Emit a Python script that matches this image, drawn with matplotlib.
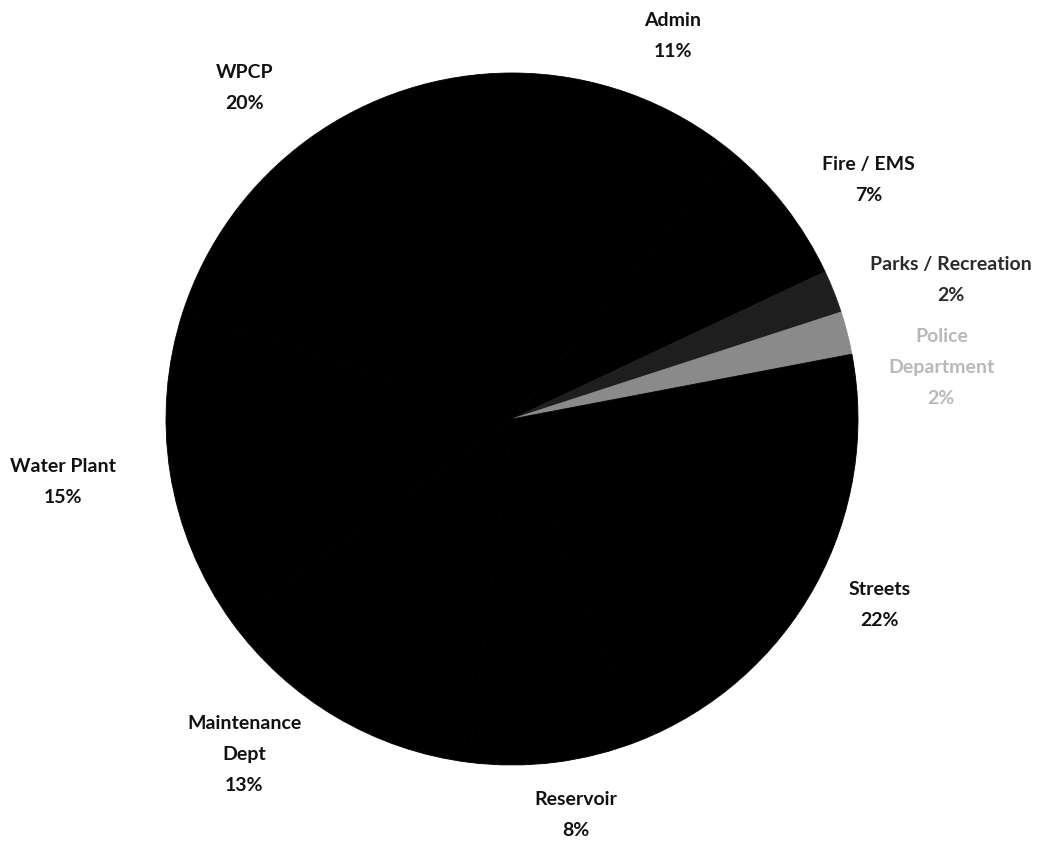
import numpy as np
import matplotlib
matplotlib.use("Agg")
import matplotlib.pyplot as plt

# ---- data ----
departments = ["Admin", "Fire / EMS", "Parks / Recreation", "Police\nDepartment",
               "Streets", "Reservoir", "Maintenance\nDept", "Water Plant", "WPCP"]
shares = [11, 7, 2, 2, 22, 8, 13, 15, 20]

# ---- styling / layout ----
slice_colors = ["#000000", "#000000", "#1e1e1e", "#8a8a8a",
                "#000000", "#000000", "#000000", "#000000", "#000000"]
label_colors = ["#111111", "#111111", "#2a2a2a", "#b8b8b8",
                "#111111", "#111111", "#111111", "#111111", "#111111"]
label_dist = [1.20, 1.24, 1.33, 1.25, 1.19, 1.16, 1.24, 1.31, 1.23]
label_dang = [-3, -4, -4, -7.5, 2, 2.0, -8, -1, 3]

plt.rcParams['font.family'] = ['Lato', 'DejaVu Sans']

W, H = 1056, 842
fig = plt.figure(figsize=(W / 100, H / 100), dpi=100)
ax = fig.add_axes([0, 0, 1, 1])
cx, cy, R = 512, 419, 346

wedges, _ = ax.pie(shares, colors=slice_colors, startangle=90, counterclock=False,
                   radius=1.0, wedgeprops=dict(linewidth=0.6))
for w, c in zip(wedges, slice_colors):
    w.set_edgecolor(c)

for w, lab, val, col, d, da in zip(wedges, departments, shares, label_colors,
                                    label_dist, label_dang):
    mid = np.deg2rad((w.theta1 + w.theta2) / 2 + da)
    x, y = d * np.cos(mid), d * np.sin(mid)
    ax.text(x, y, f"{lab}\n{val}%", ha="center", va="center", fontsize=14,
            fontweight="bold", color=col, linespacing=2.0)

ax.set_xlim(-cx / R, (W - cx) / R)
ax.set_ylim(-(H - cy) / R, cy / R)
ax.set_aspect("equal")
ax.axis("off")
fig.savefig("out.png", dpi=100, facecolor="white")
